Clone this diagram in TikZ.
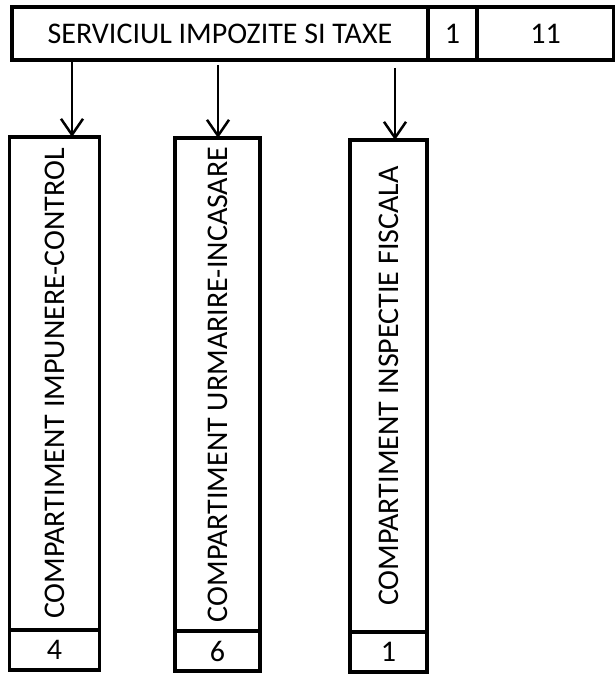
\documentclass[tikz,border=0pt]{standalone}
\usepackage{fontspec}
\setmainfont{Carlito}
\usetikzlibrary{arrows.meta,positioning}

\begin{document}
\begin{tikzpicture}[x=1pt,y=-1pt,
 cell/.style={draw,line width=3.5pt,outer sep=0pt,inner sep=0pt,font=\fontsize{30}{30}\selectfont},
 vtext/.style={rotate=90,inner sep=0pt,font=\fontsize{30}{30}\selectfont},
 arr/.style={line width=2.5pt,-{Straight Barb[length=16pt,width=22pt,line width=2.5pt]}}]

\def\h{53} \def\hn{40}
\useasboundingbox (0,0) rectangle (615,674);

%top row
\node[cell,minimum width=416pt,minimum height=\h pt] (serv) at (220,33.5) {SERVICIUL IMPOZITE SI TAXE};
\node[cell,minimum width=49pt,minimum height=\h pt,right=0pt of serv] (servnr) {1};
\node[cell,minimum width=137pt,minimum height=\h pt,right=0pt of servnr] (servtot) {11};

%compartimente
\foreach \n/\x/\ya/\yb/\w/\txt/\nr in {imp/54.5/137/630/90/IMPUNERE-CONTROL/4,
  urm/217.5/138/631/85/URMARIRE-INCASARE/6, insp/388.5/140/632/77/INSPECTIE FISCALA/1}
{
 \node[cell,minimum width=\w pt,minimum height={(\yb-\ya)*1pt},
  label={[vtext]center:COMPARTIMENT \txt}] (\n) at (\x,{(\ya+\yb)/2}) {};
 \node[cell,minimum width=\w pt,minimum height=\hn pt,below=0pt of \n] (\n-nr) {\nr};
}

%sageti
\foreach \n/\ax/\g in {imp/72/0, urm/218/5, insp/395/8}
{
 \coordinate (a-\n) at (\ax,0);
 \draw[arr] (serv.south -| a-\n) ++(0,\g) -- (a-\n |- \n.north);
}

\end{tikzpicture}
\end{document}
